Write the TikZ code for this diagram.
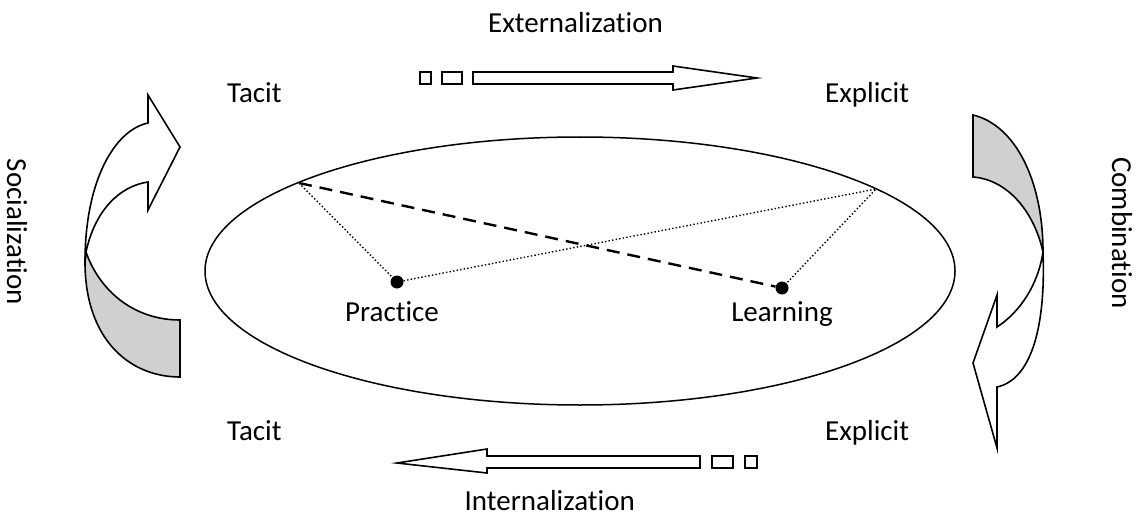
\documentclass[tikz,border=0pt]{standalone}
\usepackage{fontspec}
\setmainfont{Carlito}[Ligatures=NoCommon]
\usetikzlibrary{shapes.geometric}
\definecolor{shade}{HTML}{D0D0D0}
\tikzset{
  lbl/.style={inner sep=0pt, font=\fontsize{29}{34}\selectfont},
  outl/.style={draw=black, line width=1.6pt, line join=miter},
  dotn/.style={circle, fill=black, inner sep=0pt, minimum size=13pt},
  dashln/.style={line width=2.4pt, dash pattern=on 13pt off 8pt},
  dotln/.style={line width=1.4pt, dash pattern=on 1.4pt off 2.2pt}
}
\begin{document}
\begin{tikzpicture}[x=1pt,y=-1pt]
\useasboundingbox (0,0) rectangle (1138,516);
% ellipse
\node[draw, ellipse, line width=1.5pt, minimum width=750pt, minimum height=268pt, inner sep=0pt] (E) at (580,271) {};
\coordinate (A) at (299,183);
\coordinate (B) at (876,189);
\node[dotn] (P) at (397,282) {};
\node[dotn] (L) at (782,288) {};
\draw[dashln] (A) -- (L);
\draw[dotln] (A) -- (P) -- (B) -- (L);
\node[lbl, anchor=base] (pt) at (392,321) {Practice};
\node[lbl, anchor=base] (lt) at (782,321) {Learning};
% labels
\node[lbl, anchor=base west] (ext) at (488,33) {Externalization};
\node[lbl, anchor=base east] (int) at (635,510) {Internalization};
\node[lbl, anchor=base west] (t1) at (227,103) {Tacit};
\node[lbl, anchor=base west] (e1) at (825,103) {Explicit};
\node[lbl, anchor=base west] (t2) at (227,440) {Tacit};
\node[lbl, anchor=base west] (e2) at (825,440) {Explicit};
\node[lbl, rotate=-90] (soc) at (17,232) {Socialization};
\node[lbl, rotate=-90] (com) at (1122,233) {Combination};
% top straight arrow
\draw[outl, fill=white] (420,72) rectangle (431,84);
\draw[outl, fill=white] (442,72) rectangle (462,84);
\draw[outl, fill=white] (473,72) -- (673,72) -- (673,66) -- (757,78) -- (673,90) -- (673,84) -- (473,84) -- cycle;
% bottom straight arrow
\draw[outl, fill=white] (700,456) -- (487,456) -- (487,449) -- (397,463) -- (487,473) -- (487,468) -- (700,468) -- cycle;
\draw[outl, fill=white] (712,456) rectangle (733,468);
\draw[outl, fill=white] (745,456) rectangle (757,468);
% left curved arrow (Socialization)
\draw[outl, fill=shade] (86,252) .. controls (100,292) and (135,320) .. (180,320) -- (180,377)
  .. controls (130,377) and (85,340) .. (85,262) -- cycle;
\draw[outl, fill=white] (85,262) .. controls (85,180) and (115,130) .. (148,123) -- (148,95) -- (180,147)
  -- (148,210) -- (148,182) .. controls (120,186) and (95,210) .. (86,252) -- cycle;
% right curved arrow (Combination)
\draw[outl, fill=shade] (973,115) .. controls (1015,125) and (1043,180) .. (1043,252)
  .. controls (1035,215) and (1010,180) .. (973,177) -- cycle;
\draw[outl, fill=white] (1043,252) .. controls (1046,330) and (1030,380) .. (997,387) -- (997,448)
  -- (973,363) -- (997,295) -- (997,327) .. controls (1020,312) and (1038,285) .. (1043,252) -- cycle;
\end{tikzpicture}
\end{document}
